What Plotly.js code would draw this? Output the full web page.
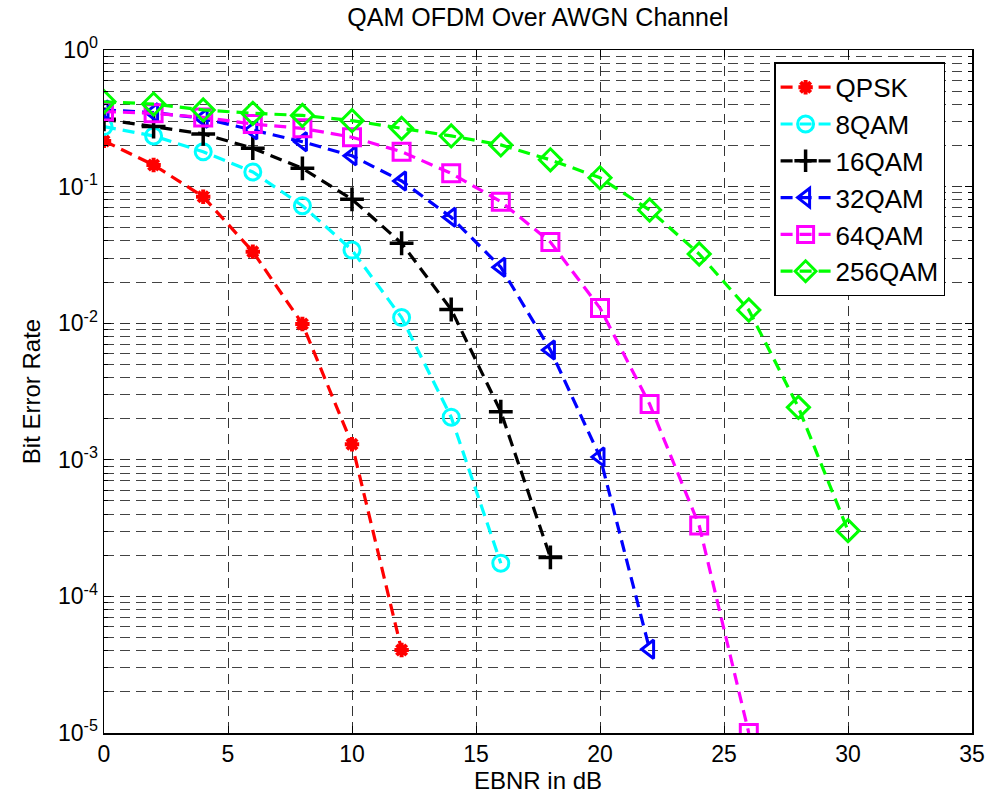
<!DOCTYPE html>
<html><head><meta charset="utf-8">
<script src="https://cdn.plot.ly/plotly-3.0.1.min.js"></script>
<style>html,body{margin:0;padding:0;background:#fff}#plot{width:987px;height:801px}</style>
</head><body><div id="plot"></div>
<script>
const ebnr = [0,2,4,6,8,10,12,14,16,18,20,22,24,26,28,30];
const names = ['QPSK','8QAM','16QAM','32QAM','64QAM','256QAM'];
const berQPSK = [0.216,0.144,0.0843,0.0334,0.00987,0.0013,4.05e-5];
const ber8QAM = [0.275,0.235,0.180,0.128,0.0725,0.0343,0.0110,0.00205,1.75e-4];
const ber16QAM = [0.311,0.275,0.243,0.191,0.136,0.0807,0.0385,0.0126,0.00225,1.93e-4];
const ber32QAM = [0.364,0.348,0.316,0.260,0.213,0.168,0.110,0.0596,0.0257,0.00637,0.00105,4.1e-5];
const ber64QAM = [0.354,0.344,0.321,0.287,0.267,0.230,0.180,0.125,0.0776,0.0393,0.0129,0.00256,3.3e-4,1e-5];
const ber256QAM = [0.418,0.402,0.364,0.344,0.332,0.304,0.267,0.235,0.202,0.157,0.116,0.0674,0.0321,0.0125,0.00242,3.03e-4];
const yTickVals = [1e-5,1e-4,1e-3,1e-2,1e-1,1];
const yTickText = ['10<sup>-5</sup>','10<sup>-4</sup>','10<sup>-3</sup>','10<sup>-2</sup>','10<sup>-1</sup>','10<sup>0</sup>'];

const series = [berQPSK,ber8QAM,ber16QAM,ber32QAM,ber64QAM,ber256QAM];
const colors = ['#ff0000','#00ffff','#000000','#0000ff','#ff00ff','#00ff00'];
const symbols = ['asterisk-open','circle-open','cross-thin-open','triangle-left-open','square-open','diamond-open'];
const sizes = [12,16,17,16,17,17];
const mlw = [4,3,3.5,3,3,3];

const minorVals = [];
for (let e=-5; e<0; e++) for (let m=2; m<=9; m++) minorVals.push(m*Math.pow(10,e));

const traces = series.map((ys,i)=>({
  x: ebnr.slice(0, ys.length), y: ys, name: names[i], type:'scatter', mode:'lines+markers',
  line:{color:colors[i], width:3.2, dash:'12px,7px'},
  marker:{symbol:symbols[i], size:sizes[i], color:colors[i], line:{color:colors[i], width:mlw[i]}}
}));

const font = {family:'Liberation Sans, Arial, sans-serif', color:'#000'};
const layout = {
  width:987, height:801, paper_bgcolor:'#fff', plot_bgcolor:'#fff',
  margin:{l:104, r:15, t:50, b:68},
  title:{text:'QAM OFDM Over AWGN Channel', font:{...font, size:25}, x:0.545, xanchor:'center', y:0.99, yanchor:'top'},
  xaxis:{range:[0,35], dtick:5, tick0:0, showline:true, linecolor:'#000', linewidth:1.5, mirror:'ticks',
    ticks:'inside', ticklen:7, tickcolor:'#000', tickfont:{...font, size:23},
    showgrid:true, gridcolor:'#333', griddash:'10px,6px', gridwidth:1, zeroline:false,
    title:{text:'EBNR in dB', font:{...font, size:24}, standoff:6}},
  yaxis:{type:'log', range:[-5,0], tickmode:'array', tickvals:yTickVals, ticktext:yTickText,
    showline:true, linecolor:'#000', linewidth:1.5, mirror:'ticks', ticks:'inside', ticklen:7, tickcolor:'#000',
    tickfont:{...font, size:23}, showgrid:true, gridcolor:'#333', griddash:'10px,6px', gridwidth:1, zeroline:false,
    minor:{tickmode:'array', tickvals:minorVals, showgrid:true, gridcolor:'#444', griddash:'10px,6px', gridwidth:1, ticks:'inside', ticklen:4, tickcolor:'#000'},
    title:{text:'Bit Error Rate', font:{...font, size:24}, standoff:10}},
  legend:{x:0.969, y:0.982, xanchor:'right', yanchor:'top', bgcolor:'#fff', bordercolor:'#000', borderwidth:1.5,
    font:{...font, size:26}, tracegroupgap:0, itemwidth:50},
  showlegend:true
};
Plotly.newPlot('plot', traces, layout, {displayModeBar:false, staticPlot:true});
</script></body></html>
